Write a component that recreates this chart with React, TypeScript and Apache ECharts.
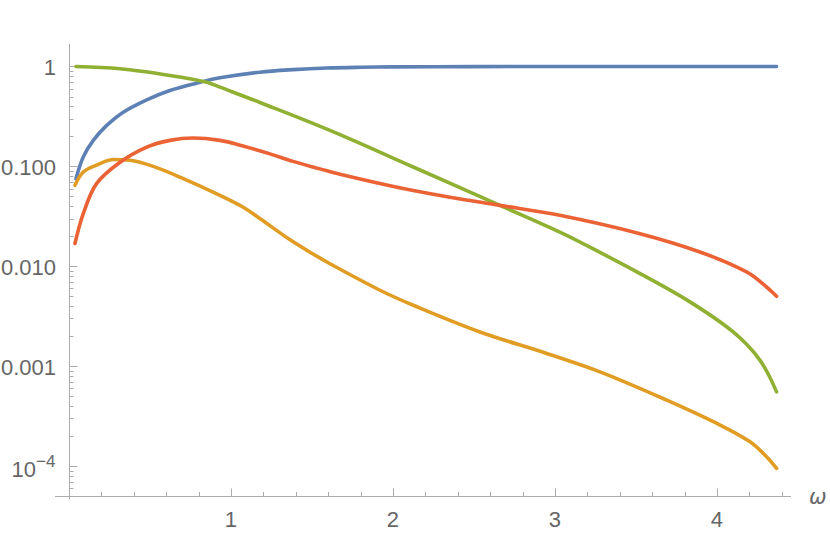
import React, { useEffect, useRef } from "react";
import * as echarts from "echarts";

// ---- data ----
const blueOmega = [0.043, 0.088, 0.15, 0.233, 0.335, 0.48, 0.623, 0.788, 0.932, 1.179, 1.385, 1.59, 1.8, 2.0, 2.5, 3.0, 3.5, 4.0, 4.368];
const blueValues = [0.0753, 0.124, 0.182, 0.257, 0.349, 0.464, 0.575, 0.681, 0.77, 0.877, 0.93, 0.965, 0.982, 0.99, 0.997, 1.0, 1.0, 1.0, 1.0];

const greenOmega = [0.043, 0.315, 0.623, 0.85, 0.932, 1.179, 1.611, 2.125, 2.66, 3.03, 3.154, 3.525, 3.833, 4.1, 4.265, 4.368];
const greenValues = [1.0, 0.948, 0.813, 0.697, 0.621, 0.436, 0.229, 0.0985, 0.0407, 0.022, 0.0175, 0.00845, 0.0044, 0.0022, 0.00115, 0.000553];

const redOmega = [0.037, 0.088, 0.171, 0.315, 0.48, 0.623, 0.765, 0.932, 1.074, 1.241, 1.383, 1.549, 1.673, 2.025, 2.352, 2.66, 3.03, 3.525, 3.895, 4.183, 4.306, 4.368];
const redValues = [0.0169, 0.0336, 0.0675, 0.11, 0.156, 0.182, 0.192, 0.182, 0.16, 0.1334, 0.1122, 0.0944, 0.0832, 0.0617, 0.049, 0.0407, 0.0324, 0.0212, 0.0139, 0.00877, 0.0062, 0.005];

const orangeOmega = [0.037, 0.088, 0.171, 0.274, 0.377, 0.52, 0.685, 0.932, 1.076, 1.18, 1.36, 1.467, 1.611, 1.92, 2.125, 2.537, 2.949, 3.278, 3.69, 4.0, 4.204, 4.306, 4.368];
const orangeValues = [0.0646, 0.0877, 0.103, 0.117, 0.115, 0.1, 0.078, 0.0513, 0.039, 0.0299, 0.0186, 0.0145, 0.0106, 0.00575, 0.00407, 0.0022, 0.00134, 0.000877, 0.000457, 0.000267, 0.000175, 0.000124, 0.0000948];

// ---- axes ----
const X_MIN = -0.0864;
const X_MAX = 4.457;
const Y_MIN = Math.pow(10, -4.3);
const Y_MAX = Math.pow(10, 0.225);

const xMajorTicks = [1, 2, 3, 4];
const xTickLabels = ["1", "2", "3", "4"];
const xMinorTicks = [0.2, 0.4, 0.6, 0.8, 1.2, 1.4, 1.6, 1.8, 2.2, 2.4, 2.6, 2.8, 3.2, 3.4, 3.6, 3.8, 4.2, 4.4];

const yMajorTicks = [1, 0.1, 0.01, 0.001, 0.0001];
const yTickLabels = ["1", "0.100", "0.010", "0.001"];
const yPowerBase = "10";
const yPowerExp = "\u22124";
const yMinorMultipliers = [2, 3, 4, 5, 6, 7, 8, 9];
const yDecades = [0.00001, 0.0001, 0.001, 0.01, 0.1, 1];

const AXIS_COLOR = "#ababab";
const LABEL_COLOR = "#666666";
const FONT = '"Liberation Sans", Arial, sans-serif';

const COLORS = {
  blue: "#5E81B5",
  orange: "#E19C24",
  green: "#8FB032",
  red: "#EB6235",
};

function buildOption() {
  const yMinor: number[] = [];
  yDecades.forEach((d) =>
    yMinorMultipliers.forEach((m) => {
      const v = m * d;
      if (v >= Y_MIN && v <= Y_MAX) yMinor.push(v);
    })
  );
  const yTickVals = [...yMajorTicks, ...yMinor];
  const yTickMajor = yTickVals.map((_, i) => i < yMajorTicks.length);
  const xTickVals = [...xMajorTicks, ...xMinorTicks];
  const xTickMajor = xTickVals.map((_, i) => i < xMajorTicks.length);

  const line = (name: string, xs: number[], ys: number[], color: string) => ({
    name,
    type: "line",
    data: xs.map((x, i) => [x, ys[i]]),
    showSymbol: false,
    symbol: "none",
    smooth: 0.35,
    lineStyle: { width: 3.6, color, cap: "round", join: "round" },
    itemStyle: { color },
    z: 3,
  });

  return {
    animation: false,
    backgroundColor: "#ffffff",
    grid: { left: 55, right: 39, top: 44, bottom: 39, containLabel: false },
    xAxis: {
      type: "value",
      min: X_MIN,
      max: X_MAX,
      show: false,
    },
    yAxis: {
      type: "log",
      logBase: 10,
      min: Y_MIN,
      max: Y_MAX,
      show: false,
    },
    graphic: [
      {
        type: "text",
        x: 809,
        y: 497,
        style: {
          text: "\u03C9",
          font: 'italic 21px "DejaVu Sans", sans-serif',
          fill: LABEL_COLOR,
          align: "left",
          verticalAlign: "middle",
        },
      },
    ],
    series: [
      // axis lines
      {
        type: "custom",
        silent: true,
        z: 1,
        data: [[X_MIN, Y_MIN, X_MAX, Y_MAX]],
        renderItem: (_p: any, api: any) => {
          const a = api.coord([api.value(0), api.value(1)]);
          const b = api.coord([api.value(2), api.value(1)]);
          const o = api.coord([0, api.value(1)]);
          const t = api.coord([0, api.value(3)]);
          const ox = Math.round(o[0]) + 0.5;
          const ay = Math.round(a[1]) + 0.5;
          return {
            type: "group",
            children: [
              { type: "line", shape: { x1: a[0], y1: ay, x2: b[0], y2: ay }, style: { stroke: AXIS_COLOR, lineWidth: 1 } },
              { type: "line", shape: { x1: ox, y1: ay + 3, x2: ox, y2: t[1] }, style: { stroke: AXIS_COLOR, lineWidth: 1 } },
            ],
          };
        },
      },
      // y ticks
      {
        type: "custom",
        silent: true,
        z: 1,
        data: yTickVals.map((v) => [0, v]),
        renderItem: (params: any, api: any) => {
          const p = api.coord([api.value(0), api.value(1)]);
          const len = yTickMajor[params.dataIndex] ? 8 : 4;
          const x = Math.round(p[0]) + 0.5;
          const y = Math.round(p[1]) + 0.5;
          return { type: "line", shape: { x1: x, y1: y, x2: x + len, y2: y }, style: { stroke: AXIS_COLOR, lineWidth: 1 } };
        },
      },
      // x ticks
      {
        type: "custom",
        silent: true,
        z: 1,
        data: xTickVals.map((v) => [v, Y_MIN]),
        renderItem: (params: any, api: any) => {
          const p = api.coord([api.value(0), api.value(1)]);
          const len = xTickMajor[params.dataIndex] ? 8 : 4.5;
          const x = Math.round(p[0]) + 0.5;
          const y = Math.round(p[1]) + 0.5;
          return { type: "line", shape: { x1: x, y1: y, x2: x, y2: y - len }, style: { stroke: AXIS_COLOR, lineWidth: 1 } };
        },
      },
      // y labels
      {
        type: "custom",
        silent: true,
        z: 1,
        data: yMajorTicks.map((v) => [0, v]),
        renderItem: (params: any, api: any) => {
          const p = api.coord([api.value(0), api.value(1)]);
          const i = params.dataIndex;
          if (i < yTickLabels.length) {
            return {
              type: "text",
              x: p[0] - 13,
              y: p[1] + 1,
              style: { text: yTickLabels[i], font: `22px ${FONT}`, fill: LABEL_COLOR, align: "right", verticalAlign: "middle" },
            };
          }
          return {
            type: "group",
            children: [
              {
                type: "text",
                x: p[0] - 33,
                y: p[1] + 3,
                style: { text: yPowerBase, font: `22px ${FONT}`, fill: LABEL_COLOR, align: "right", verticalAlign: "middle" },
              },
              {
                type: "text",
                x: p[0] - 33,
                y: p[1] - 5,
                style: { text: yPowerExp, font: `17px ${FONT}`, fill: LABEL_COLOR, align: "left", verticalAlign: "middle" },
              },
            ],
          };
        },
      },
      // x labels
      {
        type: "custom",
        silent: true,
        z: 1,
        data: xMajorTicks.map((v) => [v, Y_MIN]),
        renderItem: (params: any, api: any) => {
          const p = api.coord([api.value(0), api.value(1)]);
          return {
            type: "text",
            x: p[0],
            y: p[1] + 23,
            style: { text: xTickLabels[params.dataIndex], font: `22px ${FONT}`, fill: LABEL_COLOR, align: "center", verticalAlign: "middle" },
          };
        },
      },
      line("blue", blueOmega, blueValues, COLORS.blue),
      line("orange", orangeOmega, orangeValues, COLORS.orange),
      line("green", greenOmega, greenValues, COLORS.green),
      line("red", redOmega, redValues, COLORS.red),
    ],
  };
}

export default function App() {
  const ref = useRef<HTMLDivElement>(null);
  useEffect(() => {
    if (!ref.current) return;
    const chart = echarts.init(ref.current, undefined, { renderer: "svg" });
    chart.setOption(buildOption() as any);
    return () => chart.dispose();
  }, []);
  return (
    <div
      ref={ref}
      style={{ position: "fixed", left: 0, top: 0, width: 830, height: 535, background: "#fff" }}
    />
  );
}
